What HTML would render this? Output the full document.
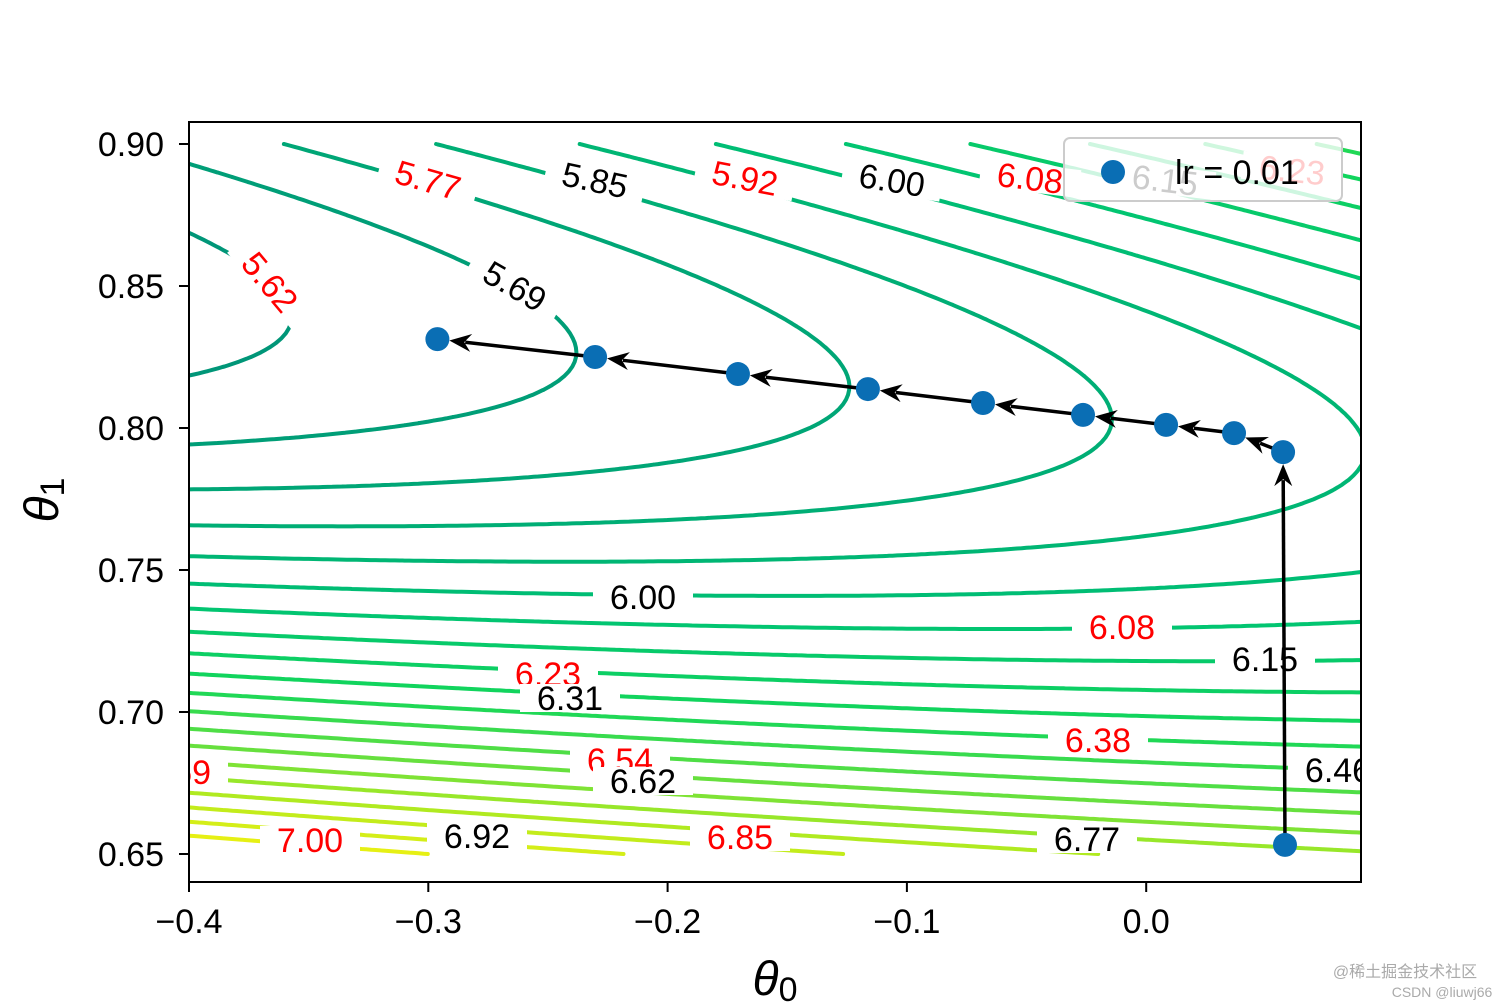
<!DOCTYPE html>
<html><head><meta charset="utf-8">
<style>
html,body{margin:0;padding:0;background:#fff;}
svg{display:block;font-family:"Liberation Sans","DejaVu Sans",sans-serif;}
</style></head>
<body>
<svg id="chart" width="1512" height="1008" viewBox="0 0 1512 1008" xmlns="http://www.w3.org/2000/svg">
<defs><clipPath id="clip"><rect x="189" y="122" width="1172" height="760"/></clipPath></defs>
<g id="contours" clip-path="url(#clip)"></g>
<g id="labels" clip-path="url(#clip)"></g>
<g id="path"></g>
<g id="axes"></g>
<g>
  <rect x="1064" y="138" width="278" height="63" rx="6" fill="#fff" fill-opacity="0.8" stroke="#ccc" stroke-width="2"/>
  <circle cx="1113" cy="172" r="12" fill="#0a6eb4"/>
  <text x="1175" y="184" font-size="34" fill="#000">lr = 0.01</text>
</g>
<text x="1405" y="977" font-size="16" fill="#aaa" text-anchor="middle" font-family="'Liberation Sans','Noto Sans CJK SC',sans-serif">@稀土掘金技术社区</text>
<text x="1442" y="997" font-size="14" fill="#aaa" text-anchor="middle">CSDN @liuwj66</text>
</svg>
<script>
// ---- data ----
const theta0Path = [0.0580, 0.0572, 0.0367, 0.0083, -0.0264, -0.0682, -0.1163, -0.1706, -0.2303, -0.2962];
const theta1Path = [0.6532, 0.7915, 0.7982, 0.8011, 0.8046, 0.8088, 0.8137, 0.8190, 0.8250, 0.8313];
const xTicks = [-0.4, -0.3, -0.2, -0.1, 0.0];
const xTickLabels = ["\u22120.4", "\u22120.3", "\u22120.2", "\u22120.1", "0.0"];
const yTicks = [0.65, 0.70, 0.75, 0.80, 0.85, 0.90];
const yTickLabels = ["0.65", "0.70", "0.75", "0.80", "0.85", "0.90"];
const levelIndex = [8,9,10,11,12,13,14,15,16,17,18,19,20,21,22,23,24,25,26,27];
const costParams = [4.78, 0.1196, 42.5, -3.0, 1.1166, 0.105]; // m, k, c, center0, center1, tilt
const gridRange0 = [-0.4, 0.1];
const gridRange1 = [0.65, 0.90];
const labelTexts = ["5.77","5.85","5.92","6.00","6.08","6.15","6.23","5.62","5.69","6.00","6.08","6.15","6.23","6.31","6.38","6.46","6.54","6.62","6.69","6.77","6.85","6.92","7.00"];

// ---- axis functions ----
const X0=189, X1=1361, Y0=122, Y1=882;
const xs = v => 189 + (v + 0.4) * 2393;
const ys = v => 144 + (0.9 - v) * 2840;
const NS = "http://www.w3.org/2000/svg";
function mk(tag, attrs, parent){const e=document.createElementNS(NS,tag);for(const k in attrs)e.setAttribute(k,attrs[k]);parent.appendChild(e);return e;}

function J(t0,t1){
  const [m,k,c,c0,c1,b]=costParams;
  const u=t0-c0, v=t1-c1+b*u;
  return m + k*u*u + c*v*v;
}
const levels = levelIndex.map(i => 5 + i/13);
const lmin = 5 + 8/13, lmax = 5 + 27/13;
const cmapStops=[[0,0,150,120],[0.3,0,195,115],[0.5,20,215,90],[0.7,110,225,60],[0.85,180,235,30],[1,230,240,20]];
function cmap(L){
  let t=(L-lmin)/(lmax-lmin); t=Math.max(0,Math.min(1,t));
  for(let i=0;i<cmapStops.length-1;i++){const a=cmapStops[i],b=cmapStops[i+1];
    if(t<=b[0]){const f=(t-a[0])/(b[0]-a[0]);
      return `rgb(${Math.round(a[1]+f*(b[1]-a[1]))},${Math.round(a[2]+f*(b[2]-a[2]))},${Math.round(a[3]+f*(b[3]-a[3]))})`;}}
  return 'rgb(230,240,20)';
}

// ---- contours (marching squares on the data grid) ----
const cg=document.getElementById('contours');
const NX=250, NY=150;
const g0=[],g1=[],vals=[];
for(let i=0;i<=NX;i++)g0.push(gridRange0[0]+(gridRange0[1]-gridRange0[0])*i/NX);
for(let j=0;j<=NY;j++)g1.push(gridRange1[0]+(gridRange1[1]-gridRange1[0])*j/NY);
for(let j=0;j<=NY;j++){const row=[];for(let i=0;i<=NX;i++)row.push(J(g0[i],g1[j]));vals.push(row);}
levels.forEach((L)=>{
  let d="";
  for(let j=0;j<NY;j++)for(let i=0;i<NX;i++){
    const p=[[xs(g0[i]),ys(g1[j]),vals[j][i]],[xs(g0[i+1]),ys(g1[j]),vals[j][i+1]],[xs(g0[i+1]),ys(g1[j+1]),vals[j+1][i+1]],[xs(g0[i]),ys(g1[j+1]),vals[j+1][i]]];
    const pts=[];
    for(let e=0;e<4;e++){const a=p[e],b=p[(e+1)%4];
      if((a[2]<L)!==(b[2]<L)){const t=(L-a[2])/(b[2]-a[2]);pts.push([a[0]+t*(b[0]-a[0]),a[1]+t*(b[1]-a[1])]);}}
    if(pts.length>=2)d+=`M${pts[0][0].toFixed(1)} ${pts[0][1].toFixed(1)}L${pts[1][0].toFixed(1)} ${pts[1][1].toFixed(1)}`;
    if(pts.length===4)d+=`M${pts[2][0].toFixed(1)} ${pts[2][1].toFixed(1)}L${pts[3][0].toFixed(1)} ${pts[3][1].toFixed(1)}`;
  }
  if(d){const e=mk('path',{d:d,stroke:cmap(L),'stroke-width':4,fill:'none','stroke-linecap':'round'},cg);
    
    }
});

// ---- contour labels ----
const labelPos=[[428,180,16,'red'],[595,180,12,'#000'],[745,178,11,'red'],[892,180,9,'#000'],[1030,178,7,'red'],[1165,180,7,'#000'],[1292,170,6,'red'],
[270,282,50,'red'],[515,286,30,'#000'],[643,597,0,'#000'],[1122,627,0,'red'],[1265,659,0,'#000'],[548,674,0,'red'],[570,698,0,'#000'],
[1098,740,0,'red'],[1338,770,0,'#000'],[620,760,0,'red'],[643,781,0,'#000'],[178,772,0,'red'],[1087,839,0,'#000'],[740,837,0,'red'],[477,836,0,'#000'],[310,840,0,'red']];
const lg=document.getElementById('labels');
labelTexts.forEach((t,i)=>{
  const [x,y,r,col]=labelPos[i];
  const g=mk('g',{transform:`translate(${x},${y}) rotate(${r})`},lg);
  
  
  mk('rect',{x:-50,y:-14,width:100,height:28,fill:'#fff'},g);
  const tx=mk('text',{x:0,y:12,'font-size':34,'text-anchor':'middle',fill:col},g);
  tx.textContent=t;
});

// ---- descent path ----
const pg=document.getElementById('path');
for(let i=0;i<theta0Path.length-1;i++){
  const x1=xs(theta0Path[i]),y1=ys(theta1Path[i]),x2=xs(theta0Path[i+1]),y2=ys(theta1Path[i+1]);
  const dx=x2-x1,dy=y2-y1,len=Math.hypot(dx,dy),ux=dx/len,uy=dy/len;
  const tipx=x2-ux*12,tipy=y2-uy*12,hl=22,hw=9;
  const bx=tipx-ux*hl,by=tipy-uy*hl;
  const ln=mk('line',{x1:x1,y1:y1,x2:bx+ux*6,y2:by+uy*6,stroke:'#000','stroke-width':3.5},pg);
  
  
  const hd=mk('polygon',{points:`${tipx},${tipy} ${bx-uy*hw},${by+ux*hw} ${bx+ux*7},${by+uy*7} ${bx+uy*hw},${by-ux*hw}`,fill:'#000'},pg);
  
  
}
theta0Path.forEach((t0,i)=>{
  const c=mk('circle',{cx:xs(t0),cy:ys(theta1Path[i]),r:12,fill:'#0a6eb4'},pg);
  
  
});

// ---- axes ----
const ag=document.getElementById('axes');
const fr=mk('rect',{x:X0,y:Y0,width:X1-X0,height:Y1-Y0,fill:'none',stroke:'#000','stroke-width':2},ag);


xTicks.forEach((v,i)=>{
  const x=xs(v);
  mk('line',{x1:x,y1:Y1,x2:x,y2:Y1+10,stroke:'#000','stroke-width':2},ag);
  const t=mk('text',{x:x,y:933,'font-size':34,'text-anchor':'middle'},ag);
  t.textContent=xTickLabels[i];
  
  
});
yTicks.forEach((v,i)=>{
  const y=ys(v);
  mk('line',{x1:X0-10,y1:y,x2:X0,y2:y,stroke:'#000','stroke-width':2},ag);
  const t=mk('text',{x:164,y:y+12,'font-size':34,'text-anchor':'end'},ag);
  t.textContent=yTickLabels[i];
  
  
});
const xl=mk('text',{x:775,y:995,'font-size':48,'text-anchor':'middle'},ag);
xl.innerHTML='<tspan font-style="italic">θ</tspan><tspan font-size="34" dy="6">0</tspan>';


const yl=mk('text',{x:0,y:0,'font-size':48,'text-anchor':'middle',transform:'translate(58,500) rotate(-90)'},ag);
yl.innerHTML='<tspan font-style="italic">θ</tspan><tspan font-size="34" dy="6">1</tspan>';


</script>
</body></html>
